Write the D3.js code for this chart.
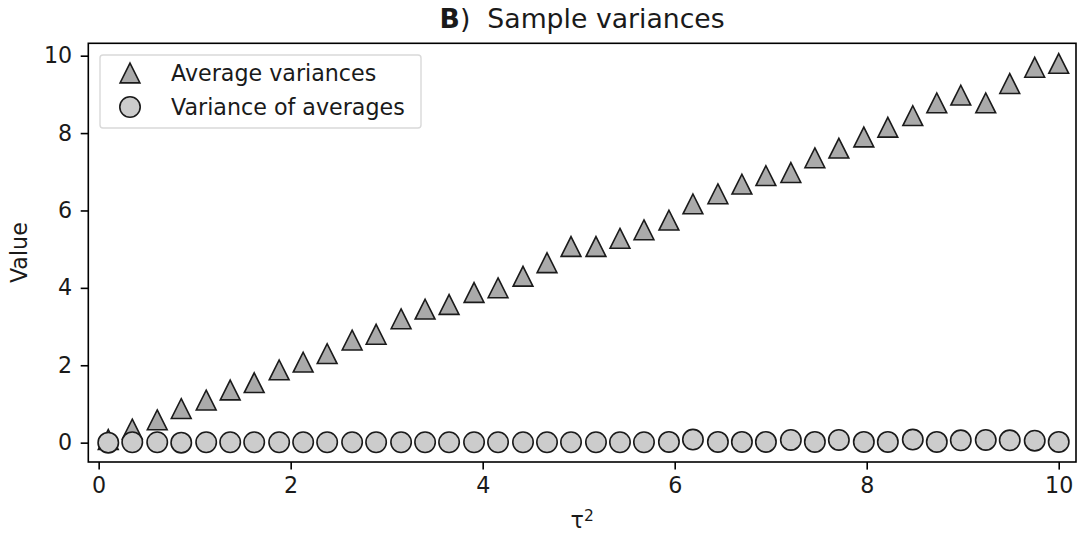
<!DOCTYPE html>
<html>
<head>
<meta charset="utf-8">
<script src="https://cdn.jsdelivr.net/npm/d3@7/dist/d3.min.js"></script>
<style>
  html, body { margin: 0; padding: 0; background: #fff; }
  svg { display: block; font-family: "DejaVu Sans", sans-serif; }
</style>
</head>
<body>
<svg id="chart" width="1081" height="539"></svg>
<script>
// tau^2 grid
const tau2 = [0.10, 0.35, 0.61, 0.86, 1.12, 1.37, 1.62, 1.88, 2.13, 2.38,
              2.64, 2.89, 3.15, 3.40, 3.65, 3.91, 4.16, 4.42, 4.67, 4.92,
              5.18, 5.43, 5.68, 5.94, 6.19, 6.45, 6.70, 6.95, 7.21, 7.46,
              7.71, 7.97, 8.22, 8.48, 8.73, 8.98, 9.24, 9.49, 9.75, 10.00];

// mean of the within-sample variances
const avgVariances = [0.08, 0.35, 0.59, 0.88, 1.10, 1.36, 1.55, 1.88, 2.08, 2.30,
                      2.65, 2.80, 3.20, 3.45, 3.57, 3.88, 4.00, 4.30, 4.65, 5.07,
                      5.07, 5.28, 5.50, 5.75, 6.17, 6.43, 6.68, 6.90, 6.98, 7.36,
                      7.61, 7.90, 8.15, 8.45, 8.78, 8.98, 8.78, 9.28, 9.70, 9.80];

// variance of the sample means
const varOfAverages = [0.00, 0.01, 0.01, 0.00, 0.01, 0.01, 0.01, 0.01, 0.01, 0.01,
                       0.01, 0.01, 0.01, 0.01, 0.01, 0.01, 0.01, 0.01, 0.01, 0.01,
                       0.01, 0.01, 0.01, 0.02, 0.08, 0.02, 0.02, 0.02, 0.07, 0.02,
                       0.07, 0.02, 0.02, 0.08, 0.02, 0.06, 0.07, 0.06, 0.05, 0.02];

const xTicks = [0, 2, 4, 6, 8, 10];
const yTicks = [0, 2, 4, 6, 8, 10];

const seriesNames = ["Average variances", "Variance of averages"];
const fillTri = "#aaaaaa";
const fillCirc = "#cccccc";
const edge = "#1a1a1a";
const ink = "#1a1a1a";

const svg = d3.select("#chart");
const plot = { left: 88.3, right: 1076, top: 43.3, bottom: 462 };

const x = d3.scaleLinear().domain([-0.108, 10.18]).range([plot.left, plot.right]);
const y = d3.scaleLinear().domain([-0.5, 10.32]).range([plot.bottom, plot.top]);

const fontSize = 22.2;
const titleSize = 26.7;
const triHalf = 9.9;
const circR = 10.2;
const tickLen = 7.6;

// triangle-up marker path, centred on the point
const triPath = `M0,${-triHalf}L${triHalf},${triHalf}L${-triHalf},${triHalf}Z`;

// axes
const xAxis = d3.axisBottom(x).tickValues(xTicks).tickFormat(d3.format("d"))
  .tickSizeInner(tickLen).tickSizeOuter(0).tickPadding(7.5);
const yAxis = d3.axisLeft(y).tickValues(yTicks).tickFormat(d3.format("d"))
  .tickSizeInner(tickLen).tickSizeOuter(0).tickPadding(8.5);

const gx = svg.append("g").attr("transform", `translate(0,${plot.bottom})`).call(xAxis);
const gy = svg.append("g").attr("transform", `translate(${plot.left},0)`).call(yAxis);
[gx, gy].forEach(g => {
  g.select(".domain").remove();
  g.selectAll(".tick line").attr("stroke", "#000").attr("stroke-width", 1.6);
  g.selectAll(".tick text").attr("fill", ink)
    .style("font-size", fontSize + "px").style("font-family", "DejaVu Sans, sans-serif");
});

// markers: triangles first, circles above
const pts = tau2.map((t, i) => ({ t, a: avgVariances[i], v: varOfAverages[i] }));

svg.append("g").selectAll("path").data(pts).join("path")
  .attr("d", triPath)
  .attr("transform", d => `translate(${x(d.t)},${y(d.a)})`)
  .attr("fill", fillTri).attr("stroke", edge).attr("stroke-width", 1.6)
  .attr("stroke-linejoin", "miter");

svg.append("g").selectAll("circle").data(pts).join("circle")
  .attr("cx", d => x(d.t)).attr("cy", d => y(d.v)).attr("r", circR)
  .attr("fill", fillCirc).attr("stroke", edge).attr("stroke-width", 1.6);

// frame
svg.append("rect")
  .attr("x", plot.left).attr("y", plot.top)
  .attr("width", plot.right - plot.left).attr("height", plot.bottom - plot.top)
  .attr("fill", "none").attr("stroke", "#000").attr("stroke-width", 1.6);

// legend
const lg = svg.append("g");
lg.append("rect")
  .attr("x", 100).attr("y", 55).attr("width", 321).attr("height", 73)
  .attr("rx", 3).attr("fill", "#fff").attr("fill-opacity", 0.8)
  .attr("stroke", "#d9d9d9").attr("stroke-width", 1.4);
lg.append("path").attr("d", triPath)
  .attr("transform", "translate(130,73)")
  .attr("fill", fillTri).attr("stroke", edge).attr("stroke-width", 1.6);
lg.append("circle").attr("cx", 130).attr("cy", 107).attr("r", circR)
  .attr("fill", fillCirc).attr("stroke", edge).attr("stroke-width", 1.6);
seriesNames.forEach((name, i) => {
  lg.append("text").attr("x", 171).attr("y", 73 + i * 34)
    .attr("dy", "0.36em").attr("fill", ink)
    .style("font-size", fontSize + "px").text(name);
});

// title
const title = svg.append("text").attr("x", (plot.left + plot.right) / 2).attr("y", 28)
  .attr("text-anchor", "middle").attr("fill", ink)
  .style("font-size", titleSize + "px");
title.append("tspan").style("font-weight", "bold").text("B");
title.append("tspan").text(")\u00a0 Sample variances");

// axis labels
const xl = svg.append("text").attr("x", (plot.left + plot.right) / 2).attr("y", 528)
  .attr("text-anchor", "middle").attr("fill", ink).style("font-size", fontSize + "px");
xl.append("tspan").text("\u03c4");
xl.append("tspan").attr("dy", "-0.45em").style("font-size", "15.5px").text("2");

svg.append("text")
  .attr("transform", `translate(27,${(plot.top + plot.bottom) / 2}) rotate(-90)`)
  .attr("text-anchor", "middle").attr("fill", ink)
  .style("font-size", fontSize + "px").text("Value");
</script>
</body>
</html>
